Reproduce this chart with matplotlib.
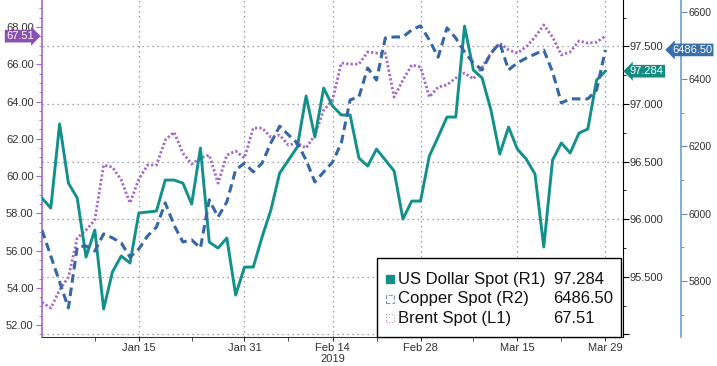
import numpy as np
import pandas as pd
import matplotlib
matplotlib.use('Agg')
import matplotlib.pyplot as plt
from matplotlib.patches import Rectangle
from matplotlib.ticker import MultipleLocator, FormatStrFormatter, FixedLocator, FuncFormatter

plt.rcParams['font.family'] = ['Liberation Sans', 'DejaVu Sans']

# business days, 31 Dec 2018 .. 29 Mar 2019
dates = pd.bdate_range('2018-12-31', '2019-03-29')

usd = [96.183, 96.096, 96.826, 96.313, 96.183, 95.671, 95.905, 95.220, 95.541, 95.680,
       95.619, 96.053, 96.062, 96.070, 96.339, 96.339, 96.313, 96.131, 96.617, 95.801,
       95.749, 95.836, 95.341, 95.584, 95.584, 95.845, 96.079, 96.400, 96.513, 96.626,
       97.069, 96.713, 97.138, 96.982, 96.904, 96.904, 96.530, 96.461, 96.608, 96.513,
       96.418, 96.001, 96.157, 96.157, 96.548, 96.713, 96.886, 96.886, 97.676, 97.294,
       97.225, 96.947, 96.565, 96.799, 96.608, 96.522, 96.392, 95.758, 96.513, 96.661,
       96.574, 96.747, 96.782, 97.207, 97.284]

copper = [5951, 5874, 5797, 5720, 5901, 5904, 5889, 5940, 5928, 5913,
          5871, 5895, 5934, 5960, 6032, 5966, 5916, 5922, 5898, 6041,
          5990, 6035, 6130, 6150, 6124, 6150, 6210, 6260, 6234, 6210,
          6159, 6094, 6124, 6153, 6210, 6338, 6347, 6433, 6397, 6522,
          6525, 6525, 6546, 6558, 6516, 6465, 6552, 6522, 6480, 6448,
          6427, 6477, 6507, 6427, 6448, 6462, 6474, 6486, 6421, 6329,
          6341, 6341, 6341, 6367, 6486.50]

brent = [53.23, 52.91, 53.88, 54.58, 56.67, 57.10, 57.64, 60.59, 60.48, 59.79,
         58.55, 59.84, 60.59, 60.59, 61.93, 62.36, 61.23, 60.64, 60.97, 61.13,
         59.62, 61.13, 61.34, 60.97, 62.58, 62.58, 62.09, 62.20, 61.66, 61.77,
         61.50, 62.20, 63.54, 64.08, 66.07, 66.01, 66.01, 66.66, 66.60, 66.60,
         64.24, 65.15, 65.96, 65.85, 64.24, 64.78, 64.89, 65.26, 65.53, 65.21,
         65.85, 66.60, 67.14, 66.77, 66.60, 66.93, 67.46, 68.11, 67.46, 66.50,
         66.66, 67.25, 67.14, 67.19, 67.51]

major_dates = ['2019-01-15', '2019-01-31', '2019-02-14', '2019-02-28', '2019-03-15', '2019-03-29']
major_labels = ['Jan 15', 'Jan 31', 'Feb 14\n2019', 'Feb 28', 'Mar 15', 'Mar 29']
minor_dates = ['2019-01-08', '2019-01-23', '2019-02-07', '2019-02-21', '2019-03-08', '2019-03-22']

legend_names = ['US Dollar Spot (R1)', 'Copper Spot (R2)', 'Brent Spot (L1)']
legend_vals = ['97.284', '6486.50', '67.51']

teal = '#12918a'
blue = '#3567a8'
purple = '#a468cc'
tagpurple = '#8a4fb0'
dark = '#333333'

x = np.arange(len(dates))
pos = {d: i for i, d in enumerate(dates)}
major_x = [pos[pd.Timestamp(d)] for d in major_dates]
minor_x = [pos[pd.Timestamp(d)] for d in minor_dates]

fig = plt.figure(figsize=(7.17, 3.66), dpi=100)
ax = fig.add_axes([42/717, 29/366, 581/717, 337/366])
ax_usd = ax.twinx()
ax_cu = ax.twinx()
ax_cu.spines['right'].set_position(('outward', 42))

ax.plot(x, brent, color=purple, lw=2.0, ls=(0, (0.8, 0.8)), zorder=3)
ax_usd.plot(x, usd, color=teal, lw=2.1, zorder=3)
ax_cu.plot(x, copper, color=blue, lw=2.2, ls=(0, (2.8, 1.6)), zorder=3)

ax.set_xlim(0, 66)
ax.set_ylim(51.36, 69.45)
ax_usd.set_ylim(94.977, 97.902)
ax_cu.set_ylim(5633.5, 6634.8)

# x axis
ax.xaxis.set_major_locator(FixedLocator(major_x))
ax.set_xticklabels(major_labels)
ax.xaxis.set_minor_locator(FixedLocator(minor_x))
ax.tick_params(axis='x', which='both', length=3, color=dark, labelsize=8, labelcolor=dark, pad=1)
ax.xaxis.grid(True, ls=(0, (1, 3)), color='#888888', lw=0.9)

# left axis (Brent)
ax.yaxis.set_major_locator(MultipleLocator(2))
ax.yaxis.set_minor_locator(MultipleLocator(0.5))
ax.yaxis.set_major_formatter(FormatStrFormatter('%.2f'))
ax.tick_params(axis='y', which='major', length=4, color=purple, labelsize=8, labelcolor=dark, pad=2)
ax.tick_params(axis='y', which='minor', length=2, color=purple)
ax.spines['left'].set_color(purple)
ax.spines['left'].set_linewidth(1.2)

# right axis (USD), bottom tick left unlabelled
ax_usd.yaxis.set_major_locator(MultipleLocator(0.5))
ax_usd.yaxis.set_minor_locator(MultipleLocator(0.25))
ax_usd.yaxis.set_major_formatter(FuncFormatter(lambda v, p: '' if v < 95.25 else '%.3f' % v))
ax_usd.tick_params(axis='y', which='major', length=4, color='black', labelsize=8, labelcolor=dark, pad=1)
ax_usd.tick_params(axis='y', which='minor', length=2.5, color='black')
ax_usd.yaxis.grid(True, ls=(0, (1, 3)), color='#888888', lw=0.9)
ax_usd.spines['right'].set_color('black')

# second right axis (Copper)
ax_cu.yaxis.set_major_locator(MultipleLocator(200))
ax_cu.yaxis.set_minor_locator(MultipleLocator(100))
ax_cu.yaxis.set_major_formatter(FormatStrFormatter('%d'))
ax_cu.tick_params(axis='y', which='major', length=4, color='#5b8fc4', labelsize=7.5, labelcolor=dark, pad=1)
ax_cu.tick_params(axis='y', which='minor', length=2.5, color='#5b8fc4')
ax_cu.spines['right'].set_color('#6f9fcc')
ax_cu.spines['right'].set_linewidth(1.2)

for a in (ax, ax_usd, ax_cu):
    a.spines['top'].set_visible(False)
for a in (ax_usd, ax_cu):
    a.spines['left'].set_visible(False)
    a.spines['bottom'].set_visible(False)
ax.spines['right'].set_visible(False)
ax.spines['bottom'].set_color(dark)

# last value tags
ax.text(-0.014, brent[-1], legend_vals[2], transform=ax.get_yaxis_transform(),
        ha='right', va='center', fontsize=8, color='white', clip_on=False, zorder=10,
        bbox=dict(boxstyle='rarrow,pad=0.12', fc=tagpurple, ec='none'))
ax_usd.text(1.012, usd[-1], legend_vals[0], transform=ax_usd.get_yaxis_transform(),
            ha='left', va='center', fontsize=8, color='white', clip_on=False, zorder=10,
            bbox=dict(boxstyle='larrow,pad=0.12', fc='#138c84', ec='none'))
ax_cu.text(1.0 + 49/581, copper[-1], legend_vals[1], transform=ax_cu.get_yaxis_transform(),
           ha='left', va='center', fontsize=8, color='white', clip_on=False, zorder=10,
           bbox=dict(boxstyle='larrow,pad=0.12', fc='#3a6fae', ec='none'))

# legend box
ta = ax_cu.transAxes
ax_cu.add_patch(Rectangle((0.5766, 0.0), 0.42, 0.234, transform=ta, fc='white',
                          ec='black', lw=1.0, zorder=20, clip_on=False))
row_y = [0.172, 0.113, 0.056]
sw, sh = 8/581, 8/337
ax_cu.add_patch(Rectangle((0.599 - sw/2, row_y[0] - sh/2), sw, sh, transform=ta,
                          fc=teal, ec=teal, zorder=21))
ax_cu.add_patch(Rectangle((0.599 - sw/2, row_y[1] - sh/2), sw, sh, transform=ta,
                          fc='none', ec='#7c9cbf', lw=0.8, ls='--', zorder=21))
ax_cu.add_patch(Rectangle((0.599 - sw/2, row_y[2] - sh/2), sw, sh, transform=ta,
                          fc='none', ec='#b49ac4', lw=0.8, ls=':', zorder=21))
for yy, name, val in zip(row_y, legend_names, legend_vals):
    ax_cu.text(0.612, yy, name, transform=ta, ha='left', va='center',
               fontsize=12, color='#111111', zorder=22)
    ax_cu.text(0.880, yy, val, transform=ta, ha='left', va='center',
               fontsize=12, color='#111111', zorder=22)

fig.savefig('out.png', dpi=100)
